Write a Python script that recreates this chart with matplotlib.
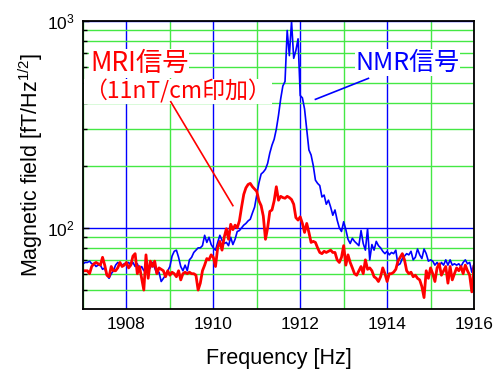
import numpy as np
import matplotlib
matplotlib.use("Agg")
import matplotlib.pyplot as plt
from matplotlib.ticker import LogLocator, NullFormatter, FuncFormatter, MultipleLocator

plt.rcParams['font.family'] = ['Liberation Sans', 'Noto Sans CJK JP', 'DejaVu Sans']
plt.rcParams['mathtext.fontset'] = 'custom'
plt.rcParams['mathtext.rm'] = 'Liberation Sans'
plt.rcParams['mathtext.it'] = 'Liberation Sans:italic'

# ---------------- data ----------------
f_start, f_stop, f_step = 1907.0, 1916.0, 0.05

nmr_signal = [
    67, 68, 68, 69, 67, 67, 65, 66, 66, 63, 64, 59, 57, 60, 62, 66, 68, 67, 66, 67,
    67, 68, 66, 68, 65, 67, 63, 65, 62, 65, 63, 64, 68, 64, 60, 61, 55, 57, 59, 62,
    65, 73, 77, 78, 72, 65, 62, 66, 62, 70, 72, 76, 78, 80, 80, 82, 92, 85, 90, 83,
    80, 78, 85, 92, 87, 84, 85, 82, 90, 83, 88, 96, 97, 100, 103, 105, 108, 110, 118, 126,
    144, 165, 182, 186, 192, 205, 230, 251, 268, 300, 350, 420, 485, 510, 900, 680, 995, 660, 720, 820,
    436, 425, 375, 300, 238, 225, 200, 170, 164, 160, 141, 144, 130, 136, 126, 115, 122, 109, 100, 96,
    107, 98, 88, 84, 89, 86, 84, 82, 97, 84, 78, 99, 70, 83, 78, 86, 82, 80, 77, 75,
    77, 74, 76, 75, 78, 66, 67, 71, 73, 75, 74, 77, 70, 72, 79, 74, 71, 79, 75, 69,
    70, 69, 66, 68, 65, 68, 66, 70, 66, 70, 66, 67, 66, 67, 65, 68, 70, 67, 68, 61, 67,
]

mri_signal = [
    62, 62, 62, 60, 65, 67, 68, 67, 66, 72, 66, 59, 58, 65, 62, 62, 64, 68, 65, 66,
    68, 64, 66, 73, 75, 60, 65, 57, 50, 74, 57, 69, 65, 69, 60, 64, 63, 62, 58, 62,
    59, 61, 60, 58, 62, 56, 60, 61, 60, 61, 60, 60, 59, 50, 54, 62, 66, 71, 70, 74,
    72, 65, 80, 86, 78, 90, 99, 88, 104, 98, 103, 100, 108, 126, 145, 156, 162, 164, 158, 154,
    150, 135, 128, 114, 88, 100, 120, 122, 135, 158, 136, 142, 140, 139, 142, 140, 137, 130, 112, 109,
    113, 105, 95, 105, 95, 85, 86, 85, 80, 76, 75, 77, 76, 77, 78, 76, 76, 70, 68, 72,
    82, 66, 74, 68, 64, 60, 59, 62, 65, 60, 70, 63, 64, 62, 58, 57, 55, 58, 64, 60,
    55, 60, 60, 61, 63, 69, 72, 75, 70, 62, 60, 61, 58, 59, 57, 56, 52, 46, 62, 57,
    64, 60, 55, 64, 67, 59, 62, 65, 54, 65, 56, 60, 64, 62, 65, 60, 66, 62, 59, 49, 65,
]

x_major_ticks = [1908, 1910, 1912, 1914, 1916]
x_label = "Frequency [Hz]"
y_label = r"Magnetic field [fT/Hz$^{1/2}$]"
mri_text = ["MRI信号", "（11nT/cm印加）"]
nmr_text = "NMR信号"

freq = f_start + f_step * np.arange(len(mri_signal))

# ---------------- figure ----------------
fig = plt.figure(figsize=(4.98, 3.70), dpi=100)
ax = fig.add_axes([83/498, 1 - 309/370, 391/498, 288/370])

GREEN = '#44e844'
BLUE = '#0000ff'
RED = '#ff0000'

ax.set_yscale('log')
ax.set_xlim(1907, 1916)
ax.set_ylim(40.5, 1000)

ax.xaxis.set_major_locator(MultipleLocator(2))
ax.xaxis.set_minor_locator(MultipleLocator(1))
ax.yaxis.set_major_locator(LogLocator(base=10, numticks=5))
ax.yaxis.set_minor_locator(LogLocator(base=10, subs=np.arange(2, 10), numticks=20))
ax.yaxis.set_minor_formatter(NullFormatter())
ax.yaxis.set_major_formatter(FuncFormatter(lambda v, p: r'$\mathregular{10^{%d}}$' % round(np.log10(v))))

ax.grid(which='major', color=BLUE, lw=1.0)
ax.grid(which='minor', color=GREEN, lw=1.0)
ax.set_axisbelow(True)

ax.plot(freq, nmr_signal, color=BLUE, lw=1.2, zorder=3)
ax.plot(freq, mri_signal, color=RED, lw=2.0, zorder=4)

ax.tick_params(which='both', direction='in', top=False, right=False, labelsize=12.5)
ax.tick_params(which='major', length=4, width=1.0, pad=6)
ax.tick_params(which='minor', length=3, width=1.0)
ax.tick_params(axis='x', which='both', length=0)

for s in ax.spines.values():
    s.set_linewidth(1.3)
    s.set_color('black')
    s.set_zorder(6)

ax.set_xlabel(x_label, fontsize=15.5)
ax.set_ylabel(y_label, fontsize=15.5)
ax.xaxis.set_label_coords(0.5, -0.137)
ax.yaxis.set_label_coords(-0.098, 0.5)

# annotations
cjk = ['Noto Sans CJK JP', 'DejaVu Sans']
bbox = dict(facecolor='white', edgecolor='none', pad=0.5)
ax.text(1907.16, 625, mri_text[0], color=RED, fontsize=19, family=cjk,
        ha='left', va='center', bbox=bbox, zorder=5)
ax.text(1907.03, 455, mri_text[1], color=RED, fontsize=16.5, family=cjk,
        ha='left', va='center', bbox=bbox, zorder=5)
ax.text(1913.27, 630, nmr_text, color=BLUE, fontsize=18, family=cjk,
        ha='left', va='center', bbox=bbox, zorder=5)

ax.plot([1909.02, 1910.45], [407, 128], color=RED, lw=1.2, zorder=5)
ax.plot([1913.57, 1912.35], [528, 418], color=BLUE, lw=1.2, zorder=5)

fig.savefig("out.png", dpi=100)
